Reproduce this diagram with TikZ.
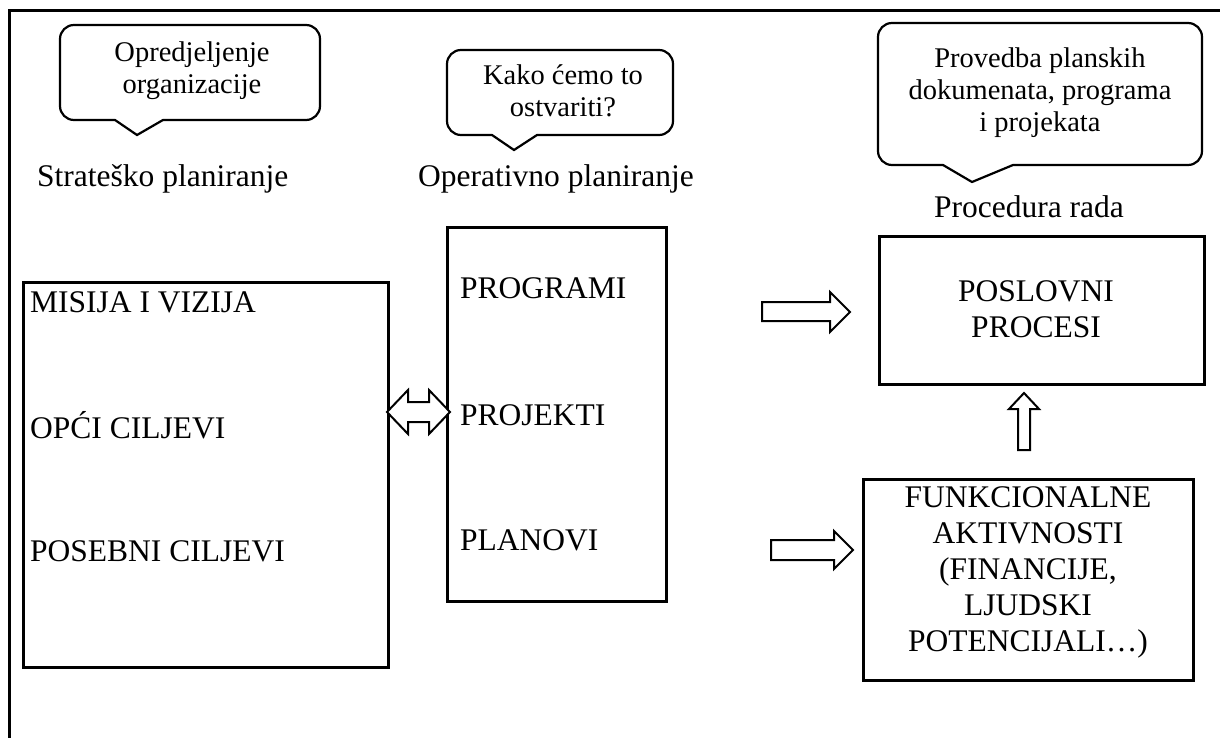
\documentclass[tikz,border=0pt]{standalone}
\usepackage{fontspec}
\setmainfont{Liberation Serif}
\begin{document}
\begin{tikzpicture}[x=1pt,y=-1pt, line join=miter,
  frame/.style={line width=3pt},
  box/.style={draw, line width=2.5pt, rectangle, inner sep=0pt, anchor=north west},
  callout/.style={line width=2.2pt},
  lbl/.style={font=\fontsize{31.5}{36}\selectfont, inner sep=0pt},
  boxtext/.style={font=\fontsize{31.5}{36}\selectfont, inner sep=0pt, align=center},
  ctext/.style={font=\fontsize{28.5}{32}\selectfont, align=center, inner sep=0pt},
  blockarrow/.style={draw, line width=2pt, fill=white}
]
\useasboundingbox (0,0) rectangle (1220,738);
% outer frame
\draw[frame] (9,738) -- (9,11) -- (1220,11);

% callouts
\draw[callout] (137,135) -- (115,120) {[rounded corners=14pt] -- (60,120) -- (60,25) -- (320,25) -- (320,120)} -- (163,120) -- cycle;
\node[ctext] (cA) at (192,71) {Opredjeljenje\\organizacije};

\draw[callout] (514,150) -- (492,135) {[rounded corners=14pt] -- (447,135) -- (447,50) -- (673,50) -- (673,135)} -- (537,135) -- cycle;
\node[ctext] (cB) at (563,91) {Kako ćemo to\\ostvariti?};

\draw[callout] (972,182) -- (943,165) {[rounded corners=14pt] -- (878,165) -- (878,23) -- (1202,23) -- (1202,165)} -- (1013,165) -- cycle;
\node[ctext] (cC) at (1040,93) {Provedba planskih\\dokumenata, programa\\i projekata};

% labels
\node[lbl, anchor=base west] (lS) at (37,187) {Strateško planiranje};
\node[lbl, anchor=base west] (lO) at (418,187) {Operativno planiranje};
\node[lbl, anchor=base] (lP) at (1029,218) {Procedura rada};

% boxes
\node[box, minimum width=365pt, minimum height=385pt] (strat) at (22,281) {};
\node[lbl, anchor=base west] (t1) at (30,312) {MISIJA I VIZIJA};
\node[lbl, anchor=base west] (t2) at (30,438) {OPĆI CILJEVI};
\node[lbl, anchor=base west] (t3) at (30,561) {POSEBNI CILJEVI};

\node[box, minimum width=219pt, minimum height=374pt] (oper) at (446,226) {};
\node[lbl, anchor=base west] (t4) at (460,298) {PROGRAMI};
\node[lbl, anchor=base west] (t5) at (460,425) {PROJEKTI};
\node[lbl, anchor=base west] (t6) at (460,550) {PLANOVI};

\node[box, minimum width=325pt, minimum height=148pt] (posl) at (878,235) {};
\node[boxtext] (t7) at (1036,309) {POSLOVNI\\PROCESI};

\node[box, minimum width=330pt, minimum height=201pt] (funk) at (862,478) {};
\node[boxtext] (t8) at (1028,572) {FUNKCIONALNE\\AKTIVNOSTI\\(FINANCIJE,\\LJUDSKI\\POTENCIJALI…)};

% block arrows
\draw[blockarrow] (387,412) -- (408,390) -- (408,402) -- (429,402) -- (429,390) -- (450,412)
   -- (429,434) -- (429,422) -- (408,422) -- (408,434) -- cycle;
\draw[blockarrow] (762,302) -- (830,302) -- (830,292) -- (850,312) -- (830,332) -- (830,321) -- (762,321) -- cycle;
\draw[blockarrow] (771,540) -- (834,540) -- (834,531) -- (853,550) -- (834,569) -- (834,560) -- (771,560) -- cycle;
\draw[blockarrow] (1018,450) -- (1018,409) -- (1009,409) -- (1024,393) -- (1039,409) -- (1030,409) -- (1030,450) -- cycle;
\end{tikzpicture}
\end{document}
